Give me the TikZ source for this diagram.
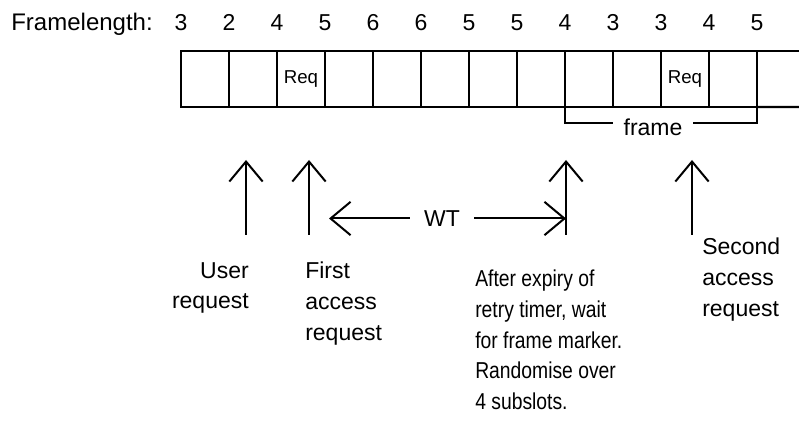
\documentclass[tikz,border=0pt]{standalone}
\usepackage{fontspec}
\setmainfont{Liberation Sans}
\newfontfamily\narrowsans[FakeStretch=0.84]{Liberation Sans}
\usetikzlibrary{arrows.meta}

\begin{document}
\begin{tikzpicture}[x=0.75pt, y=-0.75pt,
    >={Straight Barb[length=15pt,width=25pt]},
    every node/.style={font=\fontsize{17.25}{23}\selectfont, inner sep=0pt},
    slot/.style={draw, line width=1.7pt, minimum width=36pt, minimum height=42pt, outer sep=0pt},
    reqtxt/.style={font=\fontsize{14}{16}\selectfont},
    trig/.style={->, line width=1.5pt},
    lbl/.style={align=left, anchor=north west}]
    \useasboundingbox (0,0) rectangle (799,434);
    % frame lengths
    \node[anchor=base east, font=\fontsize{18}{20}\selectfont] (flen) at (153,31) {Framelength:};
    \foreach \n [count=\i] in {3,2,4,5,6,6,5,5,4,3,3,4,5}
        \node[anchor=base] (n\i) at ({133+48*\i},31) {\n};
    % slots
    \foreach \i in {1,...,12}
        \node[slot] (s\i) at ({157+48*\i},79) {};
    \coordinate (rt) at (806,51); \coordinate (rb) at (806,106.9);
    \draw[line width=1.7pt] (s12.north east) -- (rt);
    \draw[line width=1.7pt] (s12.south east) -- (rb);
    \node[reqtxt] (req1) at (s3) {Req};
    \node[reqtxt] (req2) at (s11) {Req};
    % frame bracket
    \node[inner xsep=8pt] (frame) at (653,127.5) {frame};
    \coordinate (fb) at (653,123.5);
    \draw[line width=1.5pt] (s9.south west) |- (frame.west |- fb);
    \draw[line width=1.5pt] (frame.east |- fb) -| (s12.south east);
    % trigger arrows
    \coordinate (u0) at (246,235); \coordinate (u1) at (246,160);
    \coordinate (f0) at (309,235); \coordinate (f1) at (309,160);
    \coordinate (a0) at (566,235); \coordinate (a1) at (566,160);
    \coordinate (b0) at (692,235); \coordinate (b1) at (692,160);
    \draw[trig] (u0) -- (u1);
    \draw[trig] (f0) -- (f1);
    \draw[trig] (a0) -- (a1);
    \draw[trig] (b0) -- (b1);
    % wait time
    \node[inner xsep=10.5pt] (wt) at (442,218.5) {WT};
    \coordinate (wtl) at (329,218.5); \coordinate (wtr) at (566,218.5);
    \draw[trig] (wt) -- (wtl);
    \draw[trig] (wt) -- (wtr);
    % labels
    \node[align=right, anchor=north east] (user) at (249,262) {User\\request};
    \node[lbl] (first) at (305,262) {First\\access\\request};
    \node[lbl, font=\narrowsans\fontsize{17.25}{23}\selectfont] (expiry) at (475,270)
        {After expiry of\\retry timer, wait\\for frame marker.\\Randomise over\\4 subslots.};
    \node[lbl] (second) at (702,238) {Second\\access\\request};
\end{tikzpicture}
\end{document}
